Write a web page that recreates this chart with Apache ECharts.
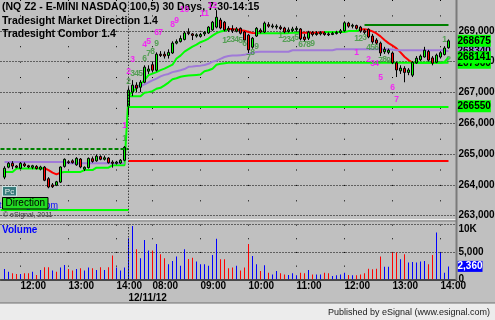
<!DOCTYPE html>
<html>
<head>
<meta charset="utf-8">
<script src="https://cdn.jsdelivr.net/npm/echarts@6/dist/echarts.min.js"></script>
<style>
html,body{margin:0;padding:0;background:#c0c0c0;}
#chart{width:495px;height:320px;}
</style>
</head>
<body>
<div id="chart"></div>
<script>
// ---------------- DATA ----------------
const titleText = '(NQ Z2 - E-MINI NASDAQ 100,5) 30 Days, 7:30-14:15';
const studyNames = ['Tradesight Market Direction 1.4', 'Tradesight Combor 1.4'];
const dateLabel = '12/11/12';
const sessions = [['11:40', 31], ['07:30', 81]]; // [first bar time, bar count], 5-minute bars

// [open, close, low, high]
const ohlcDay1 = [
  [264250,264540,264185,264605],[264575,264700,264540,264740],[264700,264610,264510,264770],[264610,264570,264540,264640],
  [264540,264700,264510,264740],[264680,264620,264580,264730],[264620,264580,264540,264650],[264570,264620,264510,264650],
  [264600,264530,264500,264640],[264510,264580,264470,264620],[264575,264150,264120,264610],[264200,263930,263890,264250],
  [264000,263940,263900,264060],[263990,264100,263960,264130],[264090,264580,264060,264600],[264600,264830,264560,264860],
  [264750,264720,264680,264800],[264780,264720,264690,264830],[264650,264860,264620,264900],[264840,264580,264540,264870],
  [264510,264570,264450,264600],[264560,264860,264530,264890],[264850,264760,264720,264920],[264780,264930,264750,264990],
  [264920,264830,264800,264960],[264830,264880,264790,264950],[264870,264720,264690,264900],[264740,264700,264560,264800],
  [264700,264740,264660,264780],[264710,264800,264680,264840],[264800,265220,264770,265260]
];
const ohlcDay2 = [
  [266550,267075,266260,267170],[267010,267237,266880,267400],[267237,267140,267010,267330],[267170,267330,267010,267400],
  [267330,267820,267300,267880],[267690,267760,267600,267880],[267900,267720,267650,268000],[267720,268240,267680,268300],
  [268240,268200,268150,268340],[268240,268180,268100,268330],[268200,268300,268100,268400],[268280,268600,268250,268660],
  [268600,268650,268560,268720],[268650,268750,268620,268850],[268720,268930,268690,268990],[268950,268910,268860,269080],
  [268900,268850,268700,268930],[268830,268870,268780,268920],[268820,268880,268780,268930],[268900,268950,268830,268990],
  [268930,269120,268900,269150],[269030,269280,269000,269320],[269120,269440,269080,269670],[269350,269090,269050,269420],
  [269280,269030,268980,269320],[269080,269020,268960,269150],[269060,269000,268930,269180],[268990,269060,268950,269120],
  [269080,268920,268880,269110],[268960,268700,268650,268990],[268860,268380,268280,268900],[268470,268760,268420,268800],
  [268830,269080,268800,269120],[269020,268960,268920,269080],[268960,269250,268930,269300],[269200,269150,269100,269280],
  [269130,269160,269080,269230],[269120,269150,269050,269210],[269120,269070,269020,269180],[269090,268960,268920,269130],
  [268980,269030,268940,269110],[269010,269060,268960,269130],[269040,269080,268990,269150],[269060,268740,268690,269090],
  [268800,268720,268650,268900],[268760,268950,268700,269000],[268940,268880,268820,268990],[268880,268920,268840,268990],
  [268900,268940,268850,268990],[268930,268880,268840,268980],[268900,268870,268830,268950],[268880,268920,268860,268970],
  [268910,268950,268880,269000],[268950,269000,268900,269060],[269000,269260,268970,269310],[269250,269150,269100,269290],
  [269150,269180,269080,269230],[269170,269080,269040,269200],[269120,268990,268940,269160],[269000,268950,268900,269050],
  [269050,268800,268760,269080],[268830,268640,268580,268900],[268700,268600,268540,268760],[268600,268280,268180,268650],
  [268320,268400,268250,268480],[268300,268370,268240,268420],[268280,267960,267920,268330],[267960,267730,267500,268000],
  [267700,267790,267600,267880],[267780,267650,267330,267850],[267650,267730,267560,267790],[267560,267980,267500,268020],
  [267960,268110,267930,268180],[268060,268180,268020,268230],[268150,268370,268130,268480],[268330,268050,268000,268380],
  [268120,267950,267880,268180],[267980,268210,267950,268260],[268150,268290,268100,268340],[268230,268440,268200,268500],
  [268450,268675,268420,268720]
];

const volumes = [
  1900,1400,1100,980,980,1100,1100,1400,790,1700,2200,2200,1600,1400,2150,2600,1900,1600,1900,2000,1600,2150,2000,1700,2200,1700,2200,4350,2150,1600,2150,
  7500,9750,5500,3850,7200,5250,5250,6450,4600,3850,2750,3350,4150,2500,5500,3700,3950,3250,2750,2750,2500,4450,7400,3650,3650,2000,2150,2500,1600,2150,6450,
  4250,2750,1500,2550,1200,900,1500,1100,900,800,1100,750,1200,1100,1700,900,900,900,1200,1100,600,750,900,1200,800,750,750,900,1100,1950,1850,1950,4150,2300,2300,4900,4900,3650,4600,3050,3150,3050,3250,3350,2750,4450,8550,4900,1200,2360
];
// b = up volume (blue), r = down volume (red)
const volumeDirection =
  'bbrrbrrbrbrrbrbbrrbrbbrbrbrrbbb' +
  'bbrbbbrbrrbbbbbrrbbbbbbrrrrbrrr' +
  'bbrbrbbrrbbbrrbrbbrrbbbbrbrrrrrrrbbrrbrbbbbbrrbbbb';

// Combor trailing line
const combor = [
  264420,264420,264420,264530,264530,264530,264530,264530,264530,264530,
  264540,264480,264400,264340,264400,264420,264420,264420,264420,264420,
  264480,264480,264480,264560,264560,264560,264560,264640,264640,264640,264640,
  266910,267010,267140,267270,267400,267560,267610,267660,267725,267775,267840,267900,268100,268195,268325,
  268405,268485,268550,268630,268680,268750,268845,268925,268975,269000,
  269055,269055,269040,269020,269000,268960,268930,268925,
  268925,268925,268925,268925,268925,268925,268925,268925,
  268940,268940,268940,268940,268940,268940,268940,268940,
  268960,268960,268960,268960,268960,268960,268990,268990,268990,269040,269055,
  269030,268980,268915,268820,268700,268600,268520,268430,268300,268160,268050,267960,
  267960,267960,267960,267960,267960,267960,267960,267990,268141
];
// runs of [trend, bar count]: u = support (green), d = resistance (red)
const comborRuns = [['u',10],['d',4],['u',42],['d',7],['u',11],['d',6],['u',9],['d',13],['u',10]];

// Market Direction (purple)
const marketDirection = [
  264740,264740,264740,264740,264740,264740,264740,264740,264740,264740,264740,264740,264740,264740,264740,264740,
  264700,264700,264700,264700,264700,264700,264700,264700,264700,264700,264700,264700,264700,264700,264700,
  null,
  267160,267180,267210,267260,267330,267390,267450,267520,267570,267600,267660,267690,267720,267760,267830,267840,
  267860,267870,267890,267930,268000,268030,268090,268150,268180,268200,268200,268210,268220,268260,268290,268310,
  268320,268320,268320,268320,268320,268320,268320,268320,
  268370,268370,268370,268370,268370,268370,268370,268370,268370,268370,268370,
  268400,268400,268400,268400,268400,268400,268400,268400,268400,268400,268400,268400,268400,268400,
  268390,
  268370,268370,268370,268370,268370,268370,268370,268370,268370,268370,268370,268370,268370,
  268340
];
// Lower trailing stop (second day only)
const lowerStop = [
  null,null,null,null,null,null,null,null,null,null,null,null,null,null,null,null,
  null,null,null,null,null,null,null,null,null,null,null,null,null,null,null,
  266880,266880,266880,266880,266990,267010,267040,267120,267150,267230,267320,267430,267460,
  267510,267530,267550,267560,267570,267580,267690,267720,267770,267900,267930,267950,
  267960,267960,267960,267960,267960,267960,267960,267960,267960,267960,267960,267960,267960,267960,
  267960,267960,267960,267960,267960,267960,267960,267960,267960,267960,267960,267960,267960,267960,
  267960,267960,267960,267960,267960,267960,267960,267960,267960,267960,267960,267960,267960,267960,
  267960,267960,267960,267960,267960,267960,267960,267960,267960,267960,267960,267960,267960,267960
];

// horizontal levels: [value, first bar, last bar]
const priorHigh = [265175, -1, 30.5];
const priorLow = [263200, -1, 30.5];
const priorClose = [264790, 31, 111];
const openLevel = [266550, 31, 111];
const resistance = [269185, 90, 111];

// bar counts: [bar, price, text]
const magentaCounts = [
  [30,265938,'1'],[31,267669,'2'],[32,268049,'3'],[35,268545,'4'],[36,268643,'5'],[38,268948,'6'],[39,268948,'7'],
  [42,269185,'8'],[43,269325,'9'],[45,269672,'10'],[50,269565,'11'],[52,269810,'12'],
  [88,268299,'1'],[91,268049,'2'],[92,267950,'3'],[93,267950,'4'],[94,267487,'5'],[97,267162,'6'],[98,266782,'7']
];
const greenCounts = [
  [30,265516,'1'],[31,267345,'2'],[32,267617,'3'],[33,267617,'4'],[34,267617,'5'],[35,268104,'6'],[36,268266,'7'],[37,268318,'8'],[38,268591,'9'],
  [55,268675,'1'],[56,268721,'2'],[57,268698,'3'],[58,268721,'4'],[59,268675,'5'],[60,268591,'6'],[61,268136,'7'],[62,268299,'8'],[63,268481,'9'],
  [69,268828,'1'],[70,268721,'2'],[71,268721,'3'],[72,268721,'4'],[73,268786,'5'],[74,268536,'6'],[75,268536,'7'],[76,268536,'8'],[77,268591,'9'],
  [88,268730,'1'],[89,268730,'2'],[90,268773,'3'],[91,268448,'4'],[92,268448,'5'],[93,268448,'6'],[94,268017,'7'],[95,268049,'8'],[96,268026,'9'],
  [110,268721,'1'],[111,268049,'2']
];

// ---------------- BUILD ----------------
function sessionTimes(start, n) {
  const p = start.split(':').map(Number);
  const out = [];
  for (let i = 0; i < n; i++) {
    const t = p[0] * 60 + p[1] + 5 * i;
    out.push(String(Math.floor(t / 60)).padStart(2, '0') + ':' + String(t % 60).padStart(2, '0'));
  }
  return out;
}
const barTimes = sessions.reduce((a, s) => a.concat(sessionTimes(s[0], s[1])), []);
const categories = [''].concat(barTimes, ['', '']); // one blank slot before, two after
const ohlc = ohlcDay1.concat(ohlcDay2);
const nBars = ohlc.length;
const X = k => k + 1; // bar -> category index
const dayBreak = X(sessions[0][1]);
const isHour = i => /:00$/.test(categories[i]);
const emptyData = categories.map((c, i) => [i, null]);

const FONT = '"Liberation Sans", Arial, sans-serif';
const UPC = '#00ff00', DNC = '#ff0000', PURPLE = '#a07ad8', DKGREEN = '#008000';

const comborPieces = [];
let kk = 0;
comborRuns.forEach(r => {
  comborPieces.push({ gte: X(kk) - 0.5, lt: X(kk + r[1] - 1) + 0.5, color: r[0] === 'u' ? UPC : DNC });
  kk += r[1];
});

function seg(level, style) {
  return [{ coord: [X(level[1]), level[0]], lineStyle: style }, { coord: [X(level[2]), level[0]], lineStyle: style }];
}
function tag(value, bg, fg, text, lh) {
  return {
    yAxis: value, lineStyle: { color: 'rgba(0,0,0,0)', width: 1 },
    label: {
      show: true, position: 'end', distance: 1, formatter: text || String(value),
      backgroundColor: bg, color: fg, fontSize: 10, fontWeight: 'bold', fontFamily: FONT,
      lineHeight: lh || 11, padding: [1, 0, 0, 0]
    }
  };
}
const last = nBars - 1;
const lastClose = ohlc[last][1];

const option = {
  animation: false,
  backgroundColor: '#c0c0c0',
  textStyle: { fontFamily: FONT },
  grid: [
    { left: 0.5, top: 0, width: 456, height: 215.7, outerBoundsMode: 'none', containLabel: false },
    { left: 0.5, top: 224.6, width: 456, height: 54.7, outerBoundsMode: 'none', containLabel: false }
  ],
  xAxis: [
    {
      type: 'category', gridIndex: 0, data: categories, boundaryGap: false,
      axisLine: { show: false }, axisTick: { show: false }, axisLabel: { show: false },
      splitLine: { show: true, interval: isHour, lineStyle: { color: '#000', width: 1, type: [1, 14.41] } }
    },
    {
      type: 'category', gridIndex: 1, data: categories, boundaryGap: false,
      axisLine: { show: true, lineStyle: { color: '#202020', width: 1.5 } }, axisTick: { show: false },
      axisLabel: {
        show: true, interval: i => isHour(i) || i === dayBreak,
        formatter: (v, i) => (i === dayBreak ? '\n' + dateLabel : v),
        align: 'left', fontSize: 10, fontWeight: 'bold', color: '#000', margin: 1, lineHeight: 12, fontFamily: FONT
      },
      splitLine: { show: true, interval: isHour, lineStyle: { color: '#000', width: 1, type: [1, 12.675] } }
    }
  ],
  yAxis: [
    {
      type: 'value', gridIndex: 0, position: 'right', min: 263000, max: 270000, interval: 1000,
      axisLine: { show: false }, axisTick: { show: false },
      axisLabel: { showMaxLabel: false, color: '#000', fontSize: 10, fontWeight: 'bold', margin: 2, fontFamily: FONT },
      splitLine: { show: true, showMaxLine: false, lineStyle: { color: '#000', width: 1, type: [1, 2] } }
    },
    {
      type: 'value', gridIndex: 1, position: 'right', min: 0, max: 10000, interval: 5000,
      axisLine: { show: false }, axisTick: { show: false },
      axisLabel: {
        color: '#000', fontSize: 10, fontWeight: 'bold', margin: 2, fontFamily: FONT,
        formatter: v => (v === 10000 ? '{k|10K}' : v.toLocaleString('en-US')),
        rich: { k: { fontSize: 10, fontWeight: 'bold', color: '#000', fontFamily: FONT, padding: [9, 0, 0, 0] } }
      },
      splitLine: { show: true, showMinLine: false, lineStyle: { color: '#000', width: 1, type: [1, 2] } }
    }
  ],
  visualMap: { show: false, type: 'piecewise', seriesIndex: 0, dimension: 0, pieces: comborPieces },
  series: [
    {
      name: 'Combor', type: 'line', xAxisIndex: 0, yAxisIndex: 0, symbol: 'none', silent: true, z: 2,
      data: combor.map((v, k) => [X(k), v]), lineStyle: { width: 2 }
    },
    {
      name: 'Market Direction', type: 'line', xAxisIndex: 0, yAxisIndex: 0, symbol: 'none', silent: true, z: 2,
      data: marketDirection.map((v, k) => [X(k), v]), lineStyle: { width: 2, color: PURPLE }, itemStyle: { color: PURPLE }
    },
    {
      name: 'Lower stop', type: 'line', xAxisIndex: 0, yAxisIndex: 0, symbol: 'none', silent: true, z: 2,
      data: lowerStop.map((v, k) => [X(k), v]), lineStyle: { width: 2, color: UPC }, itemStyle: { color: UPC }
    },
    {
      name: 'Levels', type: 'line', xAxisIndex: 0, yAxisIndex: 0, data: emptyData, symbol: 'none', silent: true, z: 2,
      markLine: {
        symbol: ['none', 'none'], silent: true, animation: false, label: { show: false },
        data: [
          seg(priorHigh, { color: DKGREEN, width: 2, type: [4, 2] }),
          seg(priorLow, { color: UPC, width: 2, type: 'solid' }),
          seg(priorClose, { color: DNC, width: 2, type: 'solid' }),
          seg(openLevel, { color: UPC, width: 2, type: 'solid' }),
          seg(resistance, { color: DKGREEN, width: 2, type: 'solid' }),
          { xAxis: dayBreak, lineStyle: { color: '#000', width: 1, type: [1, 2] } }
        ]
      }
    },
    {
      name: 'NQ Z2', type: 'candlestick', xAxisIndex: 0, yAxisIndex: 0, z: 3, silent: true, barWidth: 3,
      data: ohlc.map((d, k) => [X(k), d[0], d[1], d[2], d[3]]),
      encode: { x: 0, y: [1, 2, 3, 4] },
      itemStyle: { color: UPC, color0: DNC, borderColor: '#000', borderColor0: '#000', borderWidth: 1 }
    },
    {
      name: 'Counts up', type: 'scatter', xAxisIndex: 0, yAxisIndex: 0, symbolSize: 0, silent: true, z: 5,
      data: magentaCounts.map(c => ({ value: [X(c[0]), c[1]], label: { formatter: c[2] } })),
      label: { show: true, position: 'inside', color: '#ff00ff', fontSize: 8.5, fontWeight: 'bold', fontFamily: FONT }
    },
    {
      name: 'Counts down', type: 'scatter', xAxisIndex: 0, yAxisIndex: 0, symbolSize: 0, silent: true, z: 5,
      data: greenCounts.map(c => ({ value: [X(c[0]), c[1]], label: { formatter: c[2] } })),
      label: { show: true, position: 'inside', color: '#3a963a', fontSize: 8.5, fontWeight: 'bold', fontFamily: FONT }
    },
    {
      name: 'Tags', type: 'line', xAxisIndex: 0, yAxisIndex: 0, data: emptyData, symbol: 'none', silent: true, z: 6,
      markLine: {
        symbol: ['none', 'none'], silent: true, animation: false,
        data: [
          tag(marketDirection[last], '#a88fe0', '#000'),
          tag(lowerStop[last], UPC, '#000'),
          tag(combor[last], UPC, '#000'),
          tag(lastClose, UPC, '#000'),
          tag(openLevel[0], UPC, '#000')
        ]
      }
    },
    {
      name: 'Volume', type: 'bar', xAxisIndex: 1, yAxisIndex: 1, barWidth: 1, silent: true, z: 3,
      data: volumes.map((v, k) => ({ value: [X(k), v], itemStyle: { color: volumeDirection[k] === 'b' ? '#0000ff' : '#ff0000' } })),
      markLine: {
        symbol: ['none', 'none'], silent: true, animation: false,
        data: [
          { xAxis: dayBreak, lineStyle: { color: '#000', width: 1, type: [1, 2] }, label: { show: false } },
          tag(volumes[last], '#0000ff', '#ffffff', volumes[last].toLocaleString('en-US'), 10)
        ]
      }
    }
  ],
  graphic: [
    { type: 'rect', z: 10, silent: true, shape: { x: 0, y: 303, width: 495, height: 17 }, style: { fill: '#ececec' } },
    { type: 'rect', z: 10, silent: true, shape: { x: 0, y: 302.5, width: 495, height: 1 }, style: { fill: '#707070' } },
    { type: 'rect', z: 10, silent: true, shape: { x: 0, y: 219, width: 456, height: 1 }, style: { fill: '#f2f2f2' } },
    { type: 'rect', z: 10, silent: true, shape: { x: 0, y: 220.5, width: 456, height: 1 }, style: { fill: '#808080' } },
    { type: 'rect', z: 10, silent: true, shape: { x: 455.5, y: 0, width: 2, height: 280 }, style: { fill: '#7a7a7a' } },
    { type: 'text', z: 0, silent: true, x: 2, y: 7, style: { text: titleText, font: 'bold 10.5px ' + FONT, fill: '#000', verticalAlign: 'middle' } },
    { type: 'text', z: 0, silent: true, x: 2, y: 21, style: { text: studyNames[0], font: 'bold 10.5px ' + FONT, fill: '#000', verticalAlign: 'middle' } },
    { type: 'text', z: 0, silent: true, x: 2, y: 34, style: { text: studyNames[1], font: 'bold 10.5px ' + FONT, fill: '#000', verticalAlign: 'middle' } },
    { type: 'text', z: 10, silent: true, x: 58, y: 205.5, style: { text: 'www.tradesight.com', font: '9px ' + FONT, fill: '#0000ff', align: 'right', verticalAlign: 'middle' } },
    { type: 'rect', z: 10, silent: true, shape: { x: 47, y: 208.6, width: 11, height: 0.8 }, style: { fill: '#0000ff' } },
    { type: 'rect', z: 10, silent: true, shape: { x: 2.5, y: 186.5, width: 14, height: 9.5 }, style: { fill: '#3a7c7c', stroke: '#cfe6e6', lineWidth: 1 } },
    { type: 'text', z: 10, silent: true, x: 9.5, y: 191.5, style: { text: 'Pc', font: '8px ' + FONT, fill: '#e8f0f0', align: 'center', verticalAlign: 'middle' } },
    { type: 'rect', z: 10, silent: true, shape: { x: 2.5, y: 197.5, width: 45.5, height: 11.5 }, style: { fill: '#22dd22', stroke: '#000', lineWidth: 1 } },
    { type: 'text', z: 10, silent: true, x: 25.3, y: 203.5, style: { text: 'Direction', font: '10px ' + FONT, fill: '#000', align: 'center', verticalAlign: 'middle' } },
    { type: 'text', z: 10, silent: true, x: 3, y: 214.8, style: { text: '\u00a9 eSignal, 2011', font: '7px ' + FONT, fill: '#303030', verticalAlign: 'middle' } },
    { type: 'text', z: 10, silent: true, x: 2, y: 230.5, style: { text: 'Volume', font: 'bold 10px ' + FONT, fill: '#0000ff', verticalAlign: 'middle' } },
    { type: 'text', z: 10, silent: true, x: 490, y: 312.5, style: { text: 'Published by eSignal (www.esignal.com)', font: '9px ' + FONT, fill: '#202020', align: 'right', verticalAlign: 'middle' } }
  ]
};

const chart = echarts.init(document.getElementById('chart'), null, { renderer: 'canvas' });
chart.setOption(option);
</script>
</body>
</html>
